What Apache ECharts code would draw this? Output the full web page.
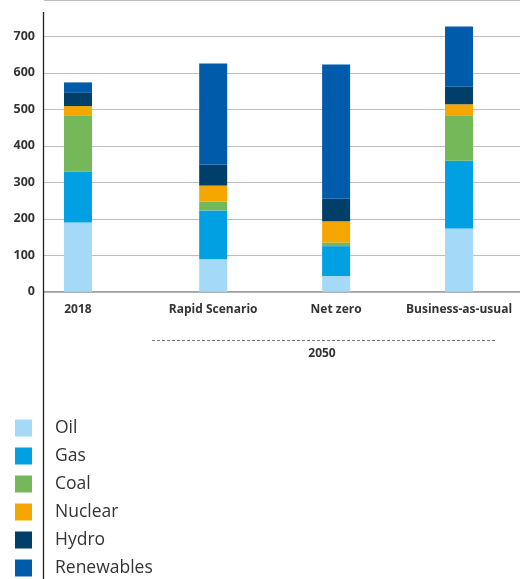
<!DOCTYPE html>
<html>
<head>
<meta charset="utf-8">
<script src="https://cdn.jsdelivr.net/npm/echarts@6/dist/echarts.min.js"></script>
<style>
html,body{margin:0;padding:0;background:#fff;}
#chart{width:520px;height:579px;}
</style>
</head>
<body>
<div id="chart"></div>
<script>
const categories = ['2018', 'Rapid Scenario', 'Net zero', 'Business-as-usual'];
const groupLabel = '2050';
const yTicks = [0, 100, 200, 300, 400, 500, 600, 700];
const oil = [190, 89, 43, 173];
const gas = [139, 134, 82, 186];
const coal = [155, 24, 10, 123];
const nuclear = [25, 44, 58, 32];
const hydro = [38, 57, 62, 49];
const renewables = [27, 278, 368, 164];

const seriesDefs = [
  { name: 'Oil', data: oil, color: '#a4daf7' },
  { name: 'Gas', data: gas, color: '#00a0e3' },
  { name: 'Coal', data: coal, color: '#74b85a' },
  { name: 'Nuclear', data: nuclear, color: '#f5a700' },
  { name: 'Hydro', data: hydro, color: '#003f69' },
  { name: 'Renewables', data: renewables, color: '#005caa' }
];

// layout: the 2050 scenarios are set slightly apart from 2018
const groupGap = 0.1;
const catPos = i => (i === 0 ? 0 : i + groupGap);
const FONT = 'Open Sans';

const chart = echarts.init(document.getElementById('chart'), null, { renderer: 'canvas' });
const option = {
  animation: false,
  grid: { left: 44, right: 0, top: -2, height: 293.7, containLabel: false },
  xAxis: {
    type: 'value',
    min: -0.2764,
    max: 3.596,
    splitLine: { show: false },
    axisTick: { show: false },
    axisLine: { show: true, lineStyle: { color: '#9a9a9a', width: 1.5 } },
    axisLabel: {
      customValues: categories.map((c, i) => catPos(i)),
      formatter: v => {
        const idx = categories.findIndex((c, i) => Math.abs(catPos(i) - v) < 1e-6);
        return idx >= 0 ? categories[idx] : '';
      },
      margin: 12,
      color: '#333',
      fontFamily: FONT,
      fontWeight: 'bold',
      fontSize: 12
    }
  },
  yAxis: {
    type: 'value',
    min: 0,
    max: 800,
    interval: 100,
    axisLine: { show: false },
    axisTick: { show: false },
    splitLine: { show: true, lineStyle: { color: '#bdbdbd', width: 1 } },
    axisLabel: {
      showMaxLabel: false,
      formatter: v => (yTicks.indexOf(v) >= 0 ? String(v) : ''),
      margin: 9,
      color: '#333',
      fontFamily: FONT,
      fontWeight: 'bold',
      fontSize: 12.5
    }
  },
  legend: {
    orient: 'vertical',
    left: 15,
    top: 419,
    height: 300,
    padding: 0,
    itemWidth: 17,
    itemHeight: 17,
    itemGap: 10,
    icon: 'rect',
    selectedMode: false,
    textStyle: { color: '#333', fontFamily: FONT, fontSize: 17.5, lineHeight: 17, padding: [0, 0, 0, 18] },
    data: seriesDefs.map(s => s.name)
  },
  graphic: [
    { type: 'line', silent: true, shape: { x1: 43.5, y1: 12, x2: 43.5, y2: 579 }, style: { stroke: '#222', lineWidth: 1.3 }, z: 100 },
    { type: 'line', silent: true, shape: { x1: 152, y1: 340.5, x2: 496, y2: 340.5 }, style: { stroke: '#777', lineWidth: 1, lineDash: [3, 2] } },
    { type: 'text', silent: true, x: 322, y: 354, style: { text: groupLabel, align: 'center', verticalAlign: 'middle', fill: '#333', font: 'bold 12px ' + FONT } }
  ],
  series: seriesDefs.map(s => ({
    name: s.name,
    type: 'bar',
    stack: 'total',
    barWidth: 28,
    encode: { x: 1, y: 0 },
    itemStyle: { color: s.color },
    data: s.data.map((v, i) => [v, catPos(i)])
  }))
};
chart.setOption(option);
</script>
</body>
</html>
